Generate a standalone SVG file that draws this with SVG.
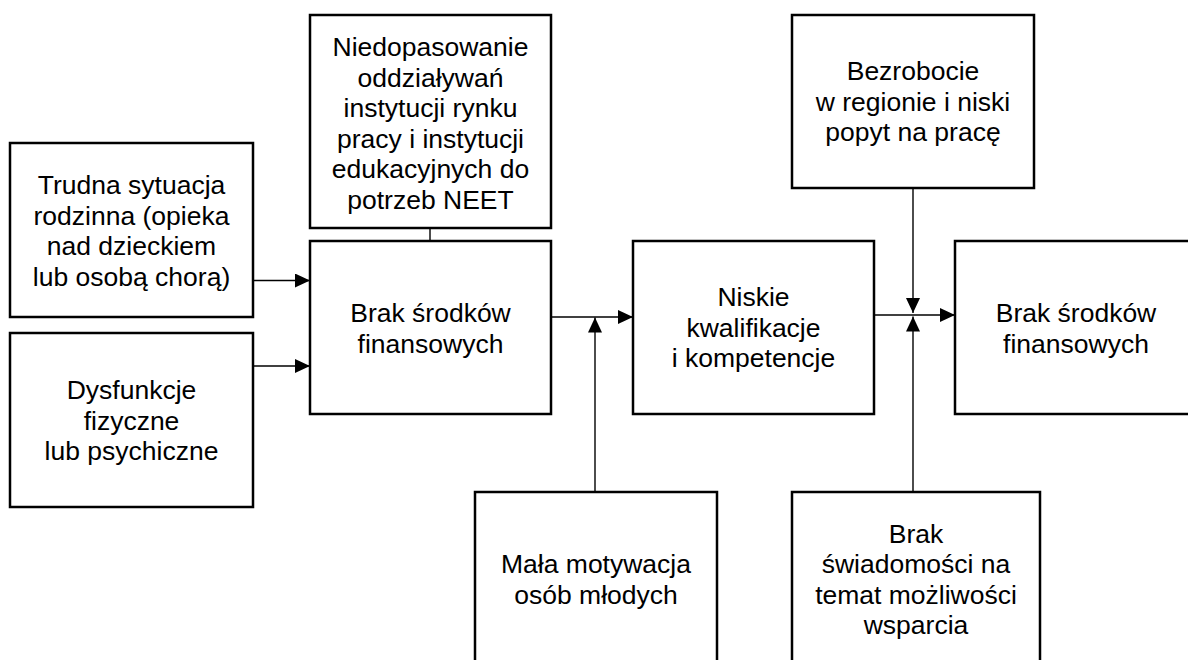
<svg xmlns="http://www.w3.org/2000/svg" width="1188" height="660" viewBox="0 0 1188 660">
<style>
.box{fill:#fff;stroke:#000;stroke-width:2.5}
.t{font-family:"Liberation Sans",Arial,sans-serif;font-size:26.5px;text-anchor:middle;fill:#000}
.c{fill:none;stroke:#000;stroke-width:1.4}
</style>
<defs>
<marker id="ah" markerUnits="userSpaceOnUse" markerWidth="16" markerHeight="16" refX="15" refY="7" orient="auto">
<path d="M0,0 L15,7 L0,14 z" fill="#000"/>
</marker>
</defs>
<rect width="1188" height="660" fill="#fff"/>
<g id="connectors">
<line class="c" x1="430" y1="228" x2="430" y2="241"/>
<line class="c" x1="253" y1="280.5" x2="310" y2="280.5" marker-end="url(#ah)"/>
<line class="c" x1="253" y1="366" x2="310" y2="366" marker-end="url(#ah)"/>
<line class="c" x1="551" y1="317" x2="633" y2="317" marker-end="url(#ah)"/>
<line class="c" x1="595" y1="492" x2="595" y2="317.5" marker-end="url(#ah)"/>
<line class="c" x1="874" y1="315" x2="955" y2="315" marker-end="url(#ah)"/>
<line class="c" x1="913" y1="188" x2="913" y2="313" marker-end="url(#ah)"/>
<line class="c" x1="913" y1="492" x2="913" y2="316.5" marker-end="url(#ah)"/>
</g>
<g id="n-niedopasowanie">
<rect class="box" x="310" y="15" width="241" height="213"/>
<text class="t" x="430.5" y="56">Niedopasowanie</text>
<text class="t" x="430.5" y="86.5">oddziaływań</text>
<text class="t" x="430.5" y="117">instytucji rynku</text>
<text class="t" x="430.5" y="147.5">pracy i instytucji</text>
<text class="t" x="430.5" y="178">edukacyjnych do</text>
<text class="t" x="430.5" y="208.5">potrzeb NEET</text>
</g>
<g id="n-trudna">
<rect class="box" x="10" y="143" width="243" height="174"/>
<text class="t" x="131.5" y="194">Trudna sytuacja</text>
<text class="t" x="131.5" y="224.5">rodzinna (opieka</text>
<text class="t" x="131.5" y="255">nad dzieckiem</text>
<text class="t" x="131.5" y="285.5">lub osobą chorą)</text>
</g>
<g id="n-dysfunkcje">
<rect class="box" x="10" y="333" width="243" height="174"/>
<text class="t" x="131.5" y="399">Dysfunkcje</text>
<text class="t" x="131.5" y="429.5">fizyczne</text>
<text class="t" x="131.5" y="460">lub psychiczne</text>
</g>
<g id="n-brak1">
<rect class="box" x="310" y="241" width="241" height="173"/>
<text class="t" x="430.5" y="322">Brak środków</text>
<text class="t" x="430.5" y="352.5">finansowych</text>
</g>
<g id="n-niskie">
<rect class="box" x="633" y="241" width="241" height="173"/>
<text class="t" x="753.5" y="306">Niskie</text>
<text class="t" x="753.5" y="336.5">kwalifikacje</text>
<text class="t" x="753.5" y="367">i kompetencje</text>
</g>
<g id="n-bezrobocie">
<rect class="box" x="792" y="15" width="242" height="173"/>
<text class="t" x="913" y="80">Bezrobocie</text>
<text class="t" x="913" y="110.5">w regionie i niski</text>
<text class="t" x="913" y="141">popyt na pracę</text>
</g>
<g id="n-brak2">
<rect class="box" x="955" y="241" width="242" height="173"/>
<text class="t" x="1076" y="322">Brak środków</text>
<text class="t" x="1076" y="352.5">finansowych</text>
</g>
<g id="n-mala">
<rect class="box" x="475" y="492" width="242" height="200"/>
<text class="t" x="596" y="573">Mała motywacja</text>
<text class="t" x="596" y="603.5">osób młodych</text>
</g>
<g id="n-swiadomosc">
<rect class="box" x="792" y="492" width="248" height="200"/>
<text class="t" x="916" y="542.5">Brak</text>
<text class="t" x="916" y="573">świadomości na</text>
<text class="t" x="916" y="603.5">temat możliwości</text>
<text class="t" x="916" y="634">wsparcia</text>
</g>
</svg>
